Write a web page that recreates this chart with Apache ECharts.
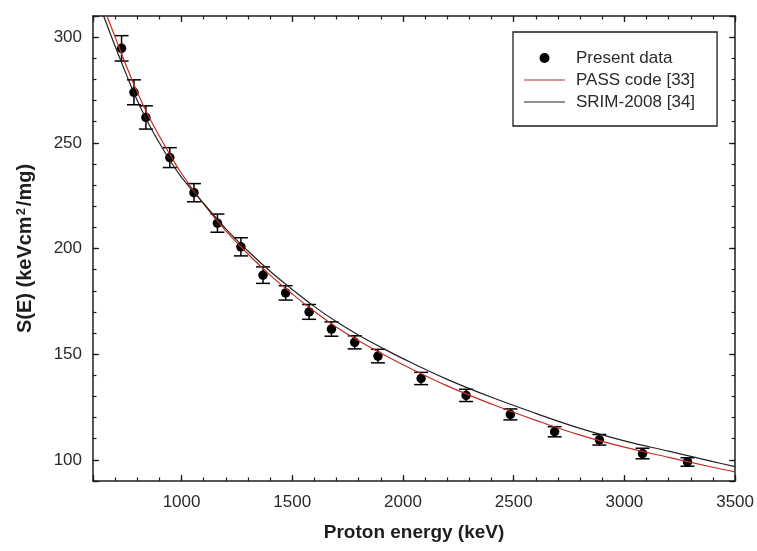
<!DOCTYPE html>
<html>
<head>
<meta charset="utf-8">
<script src="https://cdn.jsdelivr.net/npm/echarts@6/dist/echarts.min.js"></script>
<style>
html,body{margin:0;padding:0;background:#fff;}
#c{width:757px;height:551px;}
</style>
</head>
<body>
<div id="c"></div>
<script>
// Measured data (Present data)
const energies = [729, 785, 839, 947, 1056, 1162, 1268, 1368, 1470, 1576, 1677, 1782, 1887, 2082, 2285, 2485, 2685, 2887, 3082, 3285];
const stopping = [294.7, 273.9, 262.0, 243.0, 226.4, 212.0, 200.8, 187.4, 179.0, 170.0, 161.9, 155.6, 149.1, 138.5, 130.5, 121.5, 113.3, 109.5, 103.0, 99.0];
const errors   = [6.0, 5.9, 5.5, 4.7, 4.3, 4.3, 4.3, 3.9, 3.4, 3.5, 3.4, 3.1, 3.2, 2.9, 2.9, 2.6, 2.4, 2.5, 2.5, 2.0];

// PASS code [33] curve
const passE = [663, 700, 750, 800, 850, 900, 950, 1000, 1100, 1200, 1300, 1400, 1500, 1600, 1700, 1800, 1900, 2000, 2200, 2400, 2600, 2800, 3000, 3200, 3400, 3500];
const passS = [310, 300, 286.5, 273.9, 262.8, 253.1, 244.0, 235.5, 221.0, 208.3, 197.4, 187.4, 178.5, 170.2, 162.8, 156.4, 150.5, 145.0, 135.0, 126.4, 118.7, 111.7, 106.0, 101.2, 96.5, 94.3];

// SRIM-2008 [34] curve
const srimE = [648, 700, 750, 800, 850, 900, 950, 1000, 1100, 1200, 1300, 1400, 1500, 1600, 1700, 1800, 1900, 2000, 2200, 2400, 2600, 2800, 3000, 3200, 3400, 3500];
const srimS = [310, 295.7, 282.5, 270.0, 259.3, 249.9, 241.3, 233.7, 221.3, 209.3, 198.8, 189.2, 180.6, 172.5, 165.3, 159.0, 153.3, 147.9, 138.1, 129.6, 122.0, 114.9, 109.0, 104.1, 99.2, 96.8];

// Tick labels
const xTickLabels = [1000, 1500, 2000, 2500, 3000, 3500];
const yTickLabels = [100, 150, 200, 250, 300];

const FONT = 'Liberation Sans, Arial, Helvetica, sans-serif';
const INK = '#1e1e1e';
const RED = '#c62b24';
const X_MIN = 600, X_MAX = 3500, Y_MIN = 90, Y_MAX = 310;

function majorAxis(pos, isX, labels) {
  const a = {
    type: 'value', position: pos,
    min: isX ? X_MIN : Y_MIN, max: isX ? X_MAX : Y_MAX,
    axisLine: {show: true, onZero: false, lineStyle: {color: INK, width: 1.5}},
    axisTick: {show: true, inside: true, length: 6, lineStyle: {color: INK, width: 1.3}},
    splitLine: {show: false},
    axisLabel: {show: false}
  };
  if (labels) {
    a.axisLabel = {
      show: true, fontSize: 17, color: '#2a2a2a', fontFamily: FONT,
      margin: isX ? 13 : 11,
      showMinLabel: true, showMaxLabel: true,
      formatter: v => labels.indexOf(v) >= 0 ? String(v) : ''
    };
  }
  return a;
}
function minorAxis(pos, isX) {
  return {
    type: 'value', position: pos,
    min: isX ? X_MIN : Y_MIN, max: isX ? X_MAX : Y_MAX,
    interval: isX ? 100 : 10,
    axisLine: {show: false, onZero: false},
    axisTick: {show: true, inside: true, length: 3.5, lineStyle: {color: INK, width: 1.2}},
    splitLine: {show: false},
    axisLabel: {show: false}
  };
}

const xBottom = majorAxis('bottom', true, xTickLabels);
xBottom.name = 'Proton energy (keV)';
xBottom.nameLocation = 'middle';
xBottom.nameGap = 42;
xBottom.nameTextStyle = {fontSize: 19, fontWeight: 'bold', color: INK, fontFamily: FONT};

const yLeft = majorAxis('left', false, yTickLabels);
yLeft.name = 'S(E) (keVcm{sup|2}/mg)';
yLeft.nameLocation = 'middle';
yLeft.nameGap = 57;
yLeft.nameTextStyle = {
  fontSize: 20, fontWeight: 'bold', color: INK, fontFamily: FONT,
  rich: {sup: {fontSize: 13, fontWeight: 'bold', color: INK, fontFamily: FONT, verticalAlign: 'top', padding: [0, 2, 8, 1]}}
};

const pts = energies.map((e, i) => [e, stopping[i]]);
const bars = energies.map((e, i) => [e, stopping[i] - errors[i], stopping[i] + errors[i]]);
const passData = passE.map((e, i) => [e, passS[i]]);
const srimData = srimE.map((e, i) => [e, srimS[i]]);

const LINE_ICON = 'path://M0,0 L82,0 L82,2.4 L0,2.4 Z';

const chart = echarts.init(document.getElementById('c'), null, {renderer: 'canvas'});
chart.setOption({
  animation: false,
  backgroundColor: '#fff',
  textStyle: {fontFamily: FONT},
  grid: {left: 93, right: 21, top: 16, bottom: 70, containLabel: false},
  xAxis: [xBottom, minorAxis('bottom', true), majorAxis('top', true, null), minorAxis('top', true)],
  yAxis: [yLeft, minorAxis('left', false), majorAxis('right', false, null), minorAxis('right', false)],
  legend: {
    orient: 'vertical', left: 513, top: 32,
    padding: [16, 22, 14, 11],
    itemGap: 2, itemWidth: 41, itemHeight: 10,
    symbolKeepAspect: true,
    borderColor: INK, borderWidth: 1.3, borderRadius: 0,
    backgroundColor: '#fff',
    textStyle: {fontSize: 17, color: '#2a2a2a', fontFamily: FONT, lineHeight: 20, padding: [0, 0, 0, 6]},
    data: [
      {name: 'Present data', icon: 'circle', itemStyle: {color: '#000', opacity: 1}},
      {name: 'PASS code [33]', icon: LINE_ICON, itemStyle: {color: RED}},
      {name: 'SRIM-2008 [34]', icon: LINE_ICON, itemStyle: {color: '#222'}}
    ]
  },
  series: [
    {
      name: 'Error bars', type: 'custom', xAxisIndex: 0, yAxisIndex: 0, z: 2,
      data: bars, silent: true,
      renderItem: function (params, api) {
        const x = api.value(0), lo = api.value(1), hi = api.value(2);
        const pTop = api.coord([x, hi]);
        const pBot = api.coord([x, lo]);
        const hw = 7;
        const st = {stroke: '#000', lineWidth: 1.5};
        return {
          type: 'group',
          children: [
            {type: 'line', shape: {x1: pTop[0], y1: pTop[1], x2: pBot[0], y2: pBot[1]}, style: st},
            {type: 'line', shape: {x1: pTop[0] - hw, y1: pTop[1], x2: pTop[0] + hw, y2: pTop[1]}, style: st},
            {type: 'line', shape: {x1: pBot[0] - hw, y1: pBot[1], x2: pBot[0] + hw, y2: pBot[1]}, style: st}
          ]
        };
      }
    },
    {
      name: 'Present data', type: 'scatter', xAxisIndex: 0, yAxisIndex: 0, z: 3,
      symbol: 'circle', symbolSize: 9.5,
      itemStyle: {color: '#000', opacity: 1},
      data: pts
    },
    {
      name: 'PASS code [33]', type: 'line', xAxisIndex: 0, yAxisIndex: 0, z: 4,
      symbol: 'none', smooth: 0.4, clip: true,
      lineStyle: {color: RED, width: 1.2},
      itemStyle: {color: RED},
      data: passData
    },
    {
      name: 'SRIM-2008 [34]', type: 'line', xAxisIndex: 0, yAxisIndex: 0, z: 4,
      symbol: 'none', smooth: 0.4, clip: true,
      lineStyle: {color: '#222', width: 1.2},
      itemStyle: {color: '#222'},
      data: srimData
    }
  ]
});
</script>
</body>
</html>
